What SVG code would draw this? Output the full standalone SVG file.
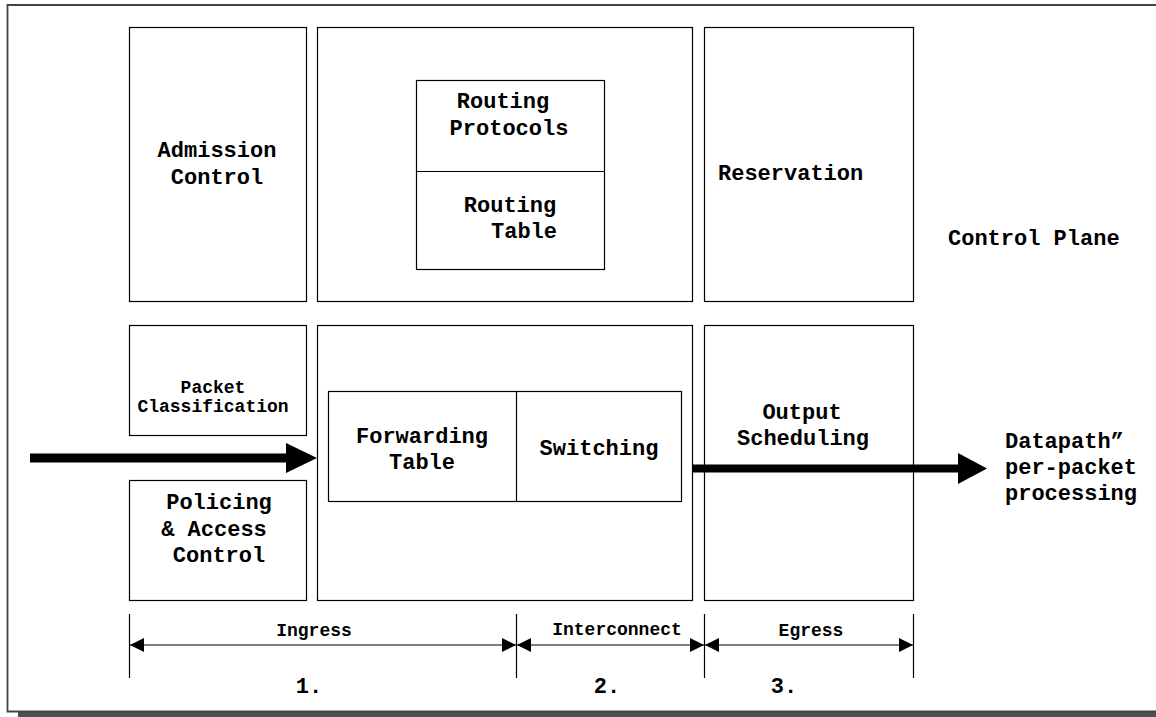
<svg xmlns="http://www.w3.org/2000/svg" width="1156" height="717" viewBox="0 0 1156 717">
  <style>
    .box { fill: #ffffff; stroke: #000000; stroke-width: 1.2; }
    .lbl { font-family: "Liberation Mono", "Courier New", monospace; font-weight: bold; font-size: 22px; fill: #000000; }
    .sm { font-family: "Liberation Mono", "Courier New", monospace; font-weight: bold; font-size: 18px; fill: #000000; }
    .dim { stroke: #000000; stroke-width: 1.2; fill: none; }
    .tick { stroke: #000000; stroke-width: 1.2; }
  </style>
  <defs>
    <marker id="dimHead" viewBox="0 0 14 14" refX="14" refY="7" markerWidth="14" markerHeight="14" markerUnits="userSpaceOnUse" orient="auto-start-reverse">
      <path d="M0,0 L14,7 L0,14 Z" fill="#000000"/>
    </marker>
  </defs>

  <!-- page background, frame and drop shadow -->
  <rect x="0" y="0" width="1156" height="717" fill="#ffffff"/>
  <rect x="18" y="712" width="1138" height="5" fill="#505050"/>
  <path d="M1160,5 L7.5,5 L7.5,711.5 L1160,711.5" fill="none" stroke="#444444" stroke-width="1.8"/>

  <!-- control plane -->
  <g id="admission-control">
    <rect class="box" x="129.5" y="27.5" width="177" height="274"/>
    <text class="lbl" x="217" y="157" text-anchor="middle">Admission</text>
    <text class="lbl" x="217" y="184" text-anchor="middle">Control</text>
  </g>
  <g id="routing">
    <rect class="box" x="317.5" y="27.5" width="375" height="274"/>
    <rect class="box" x="416.5" y="80.5" width="188" height="189"/>
    <line class="tick" x1="416.5" y1="171.5" x2="604.5" y2="171.5"/>
    <text class="lbl" x="503" y="108" text-anchor="middle">Routing</text>
    <text class="lbl" x="509" y="135" text-anchor="middle">Protocols</text>
    <text class="lbl" x="510" y="212" text-anchor="middle">Routing</text>
    <text class="lbl" x="524" y="238" text-anchor="middle">Table</text>
  </g>
  <g id="reservation">
    <rect class="box" x="704.5" y="27.5" width="209" height="274"/>
    <text class="lbl" x="718" y="180">Reservation</text>
  </g>
  <g id="control-plane-label">
    <text class="lbl" x="948" y="245">Control Plane</text>
  </g>

  <!-- datapath -->
  <g id="packet-classification">
    <rect class="box" x="129.5" y="325.5" width="177" height="110"/>
    <text class="sm" x="213" y="393" text-anchor="middle">Packet</text>
    <text class="sm" x="213" y="412" text-anchor="middle">Classification</text>
  </g>
  <g id="policing">
    <rect class="box" x="129.5" y="480.5" width="177" height="120"/>
    <text class="lbl" x="219" y="509" text-anchor="middle">Policing</text>
    <text class="lbl" x="214" y="536" text-anchor="middle">&amp; Access</text>
    <text class="lbl" x="219" y="562" text-anchor="middle">Control</text>
  </g>
  <g id="fabric">
    <rect class="box" x="317.5" y="325.5" width="375" height="275"/>
    <rect class="box" x="328.5" y="391.5" width="353" height="110"/>
    <line class="tick" x1="516.5" y1="391.5" x2="516.5" y2="501.5"/>
    <text class="lbl" x="422" y="443" text-anchor="middle">Forwarding</text>
    <text class="lbl" x="422" y="469" text-anchor="middle">Table</text>
    <text class="lbl" x="599" y="455" text-anchor="middle">Switching</text>
  </g>
  <g id="output-scheduling">
    <rect class="box" x="704.5" y="325.5" width="209" height="275"/>
    <text class="lbl" x="802" y="419" text-anchor="middle">Output</text>
    <text class="lbl" x="803" y="445" text-anchor="middle">Scheduling</text>
  </g>
  <g id="datapath-label">
    <text class="lbl" x="1005" y="448">Datapath”</text>
    <text class="lbl" x="1005" y="474">per-packet</text>
    <text class="lbl" x="1005" y="500">processing</text>
  </g>

  <!-- connectors: packet flow and stage dimensions -->
  <g id="connectors">
    <path d="M30,453.5 L286,453.5 L286,443 L317,458 L286,473 L286,462.5 L30,462.5 Z" fill="#000000"/>
    <path d="M692,464.5 L958,464.5 L958,453 L987,468.5 L958,484 L958,472.5 L692,472.5 Z" fill="#000000"/>

    <line class="tick" x1="129.5" y1="614" x2="129.5" y2="678"/>
    <line class="tick" x1="516.5" y1="614" x2="516.5" y2="678"/>
    <line class="tick" x1="704.5" y1="614" x2="704.5" y2="678"/>
    <line class="tick" x1="913.5" y1="614" x2="913.5" y2="678"/>

    <line class="dim" x1="130" y1="645" x2="516" y2="645" marker-start="url(#dimHead)" marker-end="url(#dimHead)"/>
    <line class="dim" x1="517" y1="645" x2="704" y2="645" marker-start="url(#dimHead)" marker-end="url(#dimHead)"/>
    <line class="dim" x1="705" y1="645" x2="913" y2="645" marker-start="url(#dimHead)" marker-end="url(#dimHead)"/>
  </g>

  <g id="stage-labels">
    <text class="sm" x="314" y="636" text-anchor="middle">Ingress</text>
    <text class="sm" x="617" y="635" text-anchor="middle">Interconnect</text>
    <text class="sm" x="811" y="636" text-anchor="middle">Egress</text>
    <text class="lbl" x="309" y="693" text-anchor="middle">1.</text>
    <text class="lbl" x="607" y="693" text-anchor="middle">2.</text>
    <text class="lbl" x="784" y="693" text-anchor="middle">3.</text>
  </g>
</svg>
